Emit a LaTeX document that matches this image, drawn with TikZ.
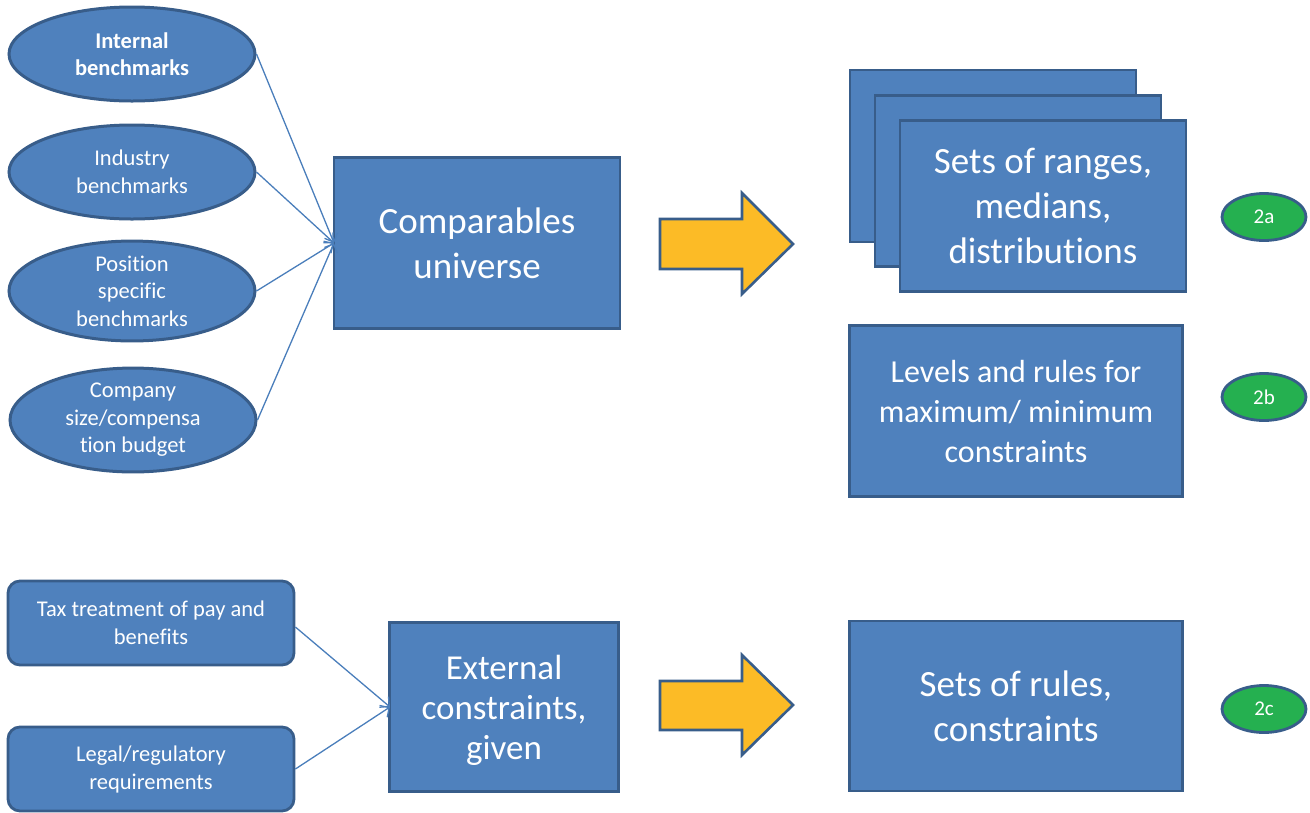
\documentclass[tikz,border=0pt]{standalone}
\usepackage{fontspec}
\setmainfont{Carlito}[Ligatures=NoCommon]
\usetikzlibrary{shapes.geometric,arrows.meta}
\definecolor{boxblue}{HTML}{4F81BD}
\definecolor{edgeblue}{HTML}{385D8A}
\definecolor{lineblue}{HTML}{4A7EBB}
\definecolor{arrowyellow}{HTML}{FCBB26}
\definecolor{badgegreen}{HTML}{25B050}
\tikzset{
  oval/.style={ellipse, draw=edgeblue, fill=boxblue, line width=3pt, text=white, inner sep=0pt,
    minimum width=246pt, minimum height=94pt, align=center, font=\fontsize{22.5}{27.5}\selectfont},
  bigbox/.style={rectangle, draw=edgeblue, fill=boxblue, line width=2.6pt, text=white, inner sep=0pt,
    align=center, font=\fontsize{37}{45}\selectfont},
  roundbox/.style={rectangle, rounded corners=12pt, draw=edgeblue, fill=boxblue, line width=2.8pt, text=white,
    inner sep=0pt, minimum width=286pt, minimum height=84pt, align=center, font=\fontsize{22.5}{28}\selectfont},
  badge/.style={ellipse, draw=edgeblue, fill=badgegreen, line width=2.8pt, text=white, inner sep=0pt,
    minimum width=84pt, minimum height=47pt, font=\fontsize{21}{24}\selectfont},
  feed/.style={draw=lineblue, line width=1.3pt, -{Straight Barb[length=7pt,width=14pt,line width=1.3pt]}},
  fatarrow/.style={draw=edgeblue, fill=arrowyellow, line width=2.6pt, line join=miter},
}
\begin{document}
\begin{tikzpicture}[x=1pt,y=-1pt]
\useasboundingbox (0,0) rectangle (1310,812);
% ovals
\node[oval] (o1) at (132,54) {\textbf{Internal}\\\textbf{benchmarks}};
\node[oval] (o2) at (132,172) {Industry\\benchmarks};
\node[oval] (o3) at (132,291) {Position\\specific\\benchmarks};
\node[oval] (o4) at (133,420) {\raisebox{0pt}[\height][\depth]{}Company\\size/compensa\\tion budget};
% comparables
\node[bigbox, minimum width=286pt, minimum height=171pt] (comp) at (477,243) {Comparables\\universe};
\coordinate (cin) at (334,243);
\foreach \o in {o1,o2,o3,o4} \draw[feed] (\o.east) -- (cin);
% yellow arrow 1
\draw[fatarrow] (660,219) -- (742,219) -- (742,193) -- (793,244) -- (742,294) -- (742,269) -- (660,269) -- cycle;
% stacked boxes
\node[bigbox, minimum width=286pt, minimum height=172pt] (s3) at (993,156) {};
\node[bigbox, minimum width=286pt, minimum height=171pt] (s2) at (1018,181) {};
\node[bigbox, minimum width=286pt, minimum height=171pt] (s1) at (1043,206) {Sets of ranges,\\medians,\\distributions};
\node[badge] (b2a) at (1264,217) {2a};
% levels
\node[bigbox, minimum width=333pt, minimum height=171pt, font=\fontsize{32}{40}\selectfont] (lev) at (1016,411) {Levels and rules for\\maximum/ minimum\\constraints};
\node[badge] (b2b) at (1264,397) {2b};
% bottom
\node[roundbox] (tax) at (151,623) {Tax treatment of pay and\\benefits};
\node[roundbox] (legal) at (151,769) {Legal/regulatory\\requirements};
\node[bigbox, minimum width=229pt, minimum height=169pt, font=\fontsize{35}{40}\selectfont, text depth=-8pt] (ext) at (504,707) {External\\constraints,\\given};
\coordinate (ein) at (390,707);
\draw[feed] (tax.east) ++(0,4) -- (ein);
\draw[feed] (legal.east) -- (ein);
\draw[fatarrow] (660,681) -- (742,681) -- (742,655) -- (793,705) -- (742,755) -- (742,730) -- (660,730) -- cycle;
\node[bigbox, minimum width=333pt, minimum height=170pt] (rules) at (1016,706) {Sets of rules,\\constraints};
\node[badge] (b2c) at (1264,709) {2c};
\end{tikzpicture}
\end{document}
